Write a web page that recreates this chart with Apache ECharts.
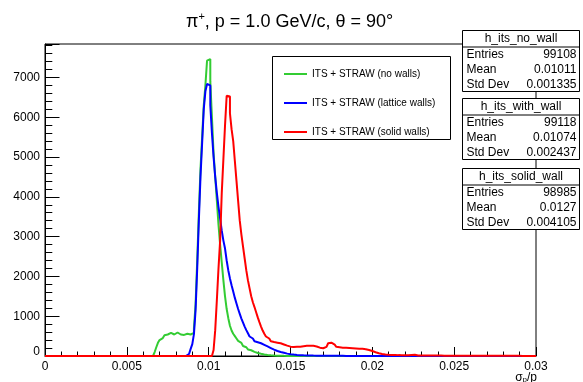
<!DOCTYPE html>
<html><head><meta charset="utf-8">
<script src="https://cdn.jsdelivr.net/npm/echarts@6/dist/echarts.min.js"></script>
<style>html,body{margin:0;padding:0;background:#fff}#c{width:583px;height:382px}</style>
</head><body><div id="c"></div>
<script>
// ---- data (histograms, bin width 0.0001 on 0..0.03) ----
const binWidth = 0.0001;
const nBins = 300;
const seriesNames = ['ITS + STRAW (no walls)', 'ITS + STRAW (lattice walls)', 'ITS + STRAW (solid walls)'];
const seriesColors = ['#33cc33', '#0000ff', '#ff0000'];

const noWallFirstBin = 66;
const noWallCounts = [
  30,100,220,330,400,450,480,520,540,570,
  580,560,540,560,590,570,540,550,530,540,
  560,550,540,560,580,700,1300,2400,3600,4700,
  5500,6300,6800,7420,7460,6900,6000,5100,4500,3900,
  3300,2800,2350,1900,1500,1180,950,760,640,560,
  500,440,380,330,290,250,220,190,165,145,
  125,105,90,75,65,55,45,38,32,27,
  22,18,15,12,10,8,7,6,5,4,
  3,3,2,2,1
];

const latticeFirstBin = 86;
const latticeCounts = [
  20,50,100,180,300,550,1150,2200,3400,4500,
  5350,6200,6650,6834,6800,6300,5600,5000,4500,4100,
  3750,3450,3150,2900,2700,2400,2150,1950,1780,1620,
  1460,1320,1180,1060,940,840,740,650,570,490,
  440,400,370,345,330,320,300,280,260,240,
  220,200,180,160,140,125,110,100,90,80,
  70,60,52,45,40,35,30,27,24,21,
  19,17,15,14,13,12,11,10,10,9,
  9,8,8,7,7,6,6,6,5,5,
  5,5,4,4,4,4,4,3,3,3,
  3,3,3,3,3,2,2,2,2,2,
  2,2,2,2,2,2,2,2,2,1,
  1,1,1,1,1,1,1,1,1,1,
  1,1,1,1,1,1,1,1,1,1
];

const solidFirstBin = 102;
const solidCounts = [
  20,150,650,1400,2200,2900,4100,4950,5800,6541,
  6520,6100,5700,5400,4900,4400,3900,3400,3050,2750,
  2450,2150,1900,1700,1500,1350,1230,1100,970,850,
  740,640,560,490,440,400,370,350,340,335,
  330,320,305,290,275,260,245,235,228,225,
  230,235,230,235,240,245,250,255,250,255,
  260,255,250,240,225,210,200,195,200,230,
  280,320,335,320,285,250,230,220,215,210,
  210,205,205,200,200,195,195,190,190,185,
  180,180,175,170,160,150,140,125,110,95,
  80,70,60,52,45,40,36,33,30,28,
  26,25,24,22,21,20,19,18,18,17,
  17,25,55,30,16,15,15,14,14,13,
  13,12,12,12,11,11,11,10,10,10,
  10,9,9,9,9,9,8,8,8,8,
  8,8,7,7,7,7,7,7,7,6,
  6,6,6,6,6,6,6,5,5,5,
  5,5,5,5,5,5,4,4,4,4,
  4,4,4,4,4,4,4,4,3,3,
  3,3,3,3,3,3,3,3
];

const xTickLabels = ['0','0.005','0.01','0.015','0.02','0.025','0.03'];
const yTickLabels = ['0','1000','2000','3000','4000','5000','6000','7000'];

const statNames = ['h_its_no_wall', 'h_its_with_wall', 'h_its_solid_wall'];
const statEntries = ['99108', '99118', '98985'];
const statMeans = ['0.01011', '0.01074', '0.0127'];
const statStdDevs = ['0.001335', '0.002437', '0.004105'];

// ---- build step data (empty bins = 0) ----
function buildSteps(firstBin, counts) {
  const full = new Array(nBins).fill(0);
  counts.forEach((c, i) => { if (firstBin + i < nBins) full[firstBin + i] = c; });
  const pts = [];
  for (let i = 0; i <= nBins; i++) {
    pts.push([+(i * binWidth).toFixed(5), full[Math.min(i, nBins - 1)]]);
  }
  return pts;
}
const dataSets = [
  buildSteps(noWallFirstBin, noWallCounts),
  buildSteps(latticeFirstBin, latticeCounts),
  buildSteps(solidFirstBin, solidCounts)
];

const FONT = 'Liberation Sans, Arial, Helvetica, sans-serif';
const G = { left: 45, top: 44, right: 536, bottom: 356 };

// stat boxes
const statGraphics = [];
const boxTops = [30.5, 98.5, 168.5];
const boxLeft = 462.5, boxW = 117, boxH = 61;
statNames.forEach((name, k) => {
  const t = boxTops[k];
  statGraphics.push({ type: 'rect', z: 100, shape: { x: boxLeft, y: t, width: boxW, height: boxH },
    style: { fill: '#fff', stroke: '#000', lineWidth: 1 } });
  statGraphics.push({ type: 'line', z: 101, shape: { x1: boxLeft, y1: t + 16.5, x2: boxLeft + boxW, y2: t + 16.5 },
    style: { stroke: '#000', lineWidth: 1 } });
  statGraphics.push({ type: 'text', z: 102, x: boxLeft + boxW / 2, y: t + 8.5,
    style: { text: name, font: '12px ' + FONT, fill: '#000', textAlign: 'center', textVerticalAlign: 'middle' } });
  const rows = [['Entries', statEntries[k]], ['Mean', statMeans[k]], ['Std Dev', statStdDevs[k]]];
  rows.forEach((r, j) => {
    const y = t + 24.5 + j * 15;
    statGraphics.push({ type: 'text', z: 102, x: boxLeft + 4, y: y,
      style: { text: r[0], font: '12px ' + FONT, fill: '#000', textAlign: 'left', textVerticalAlign: 'middle' } });
    statGraphics.push({ type: 'text', z: 102, x: boxLeft + boxW - 3, y: y,
      style: { text: r[1], font: '12px ' + FONT, fill: '#000', textAlign: 'right', textVerticalAlign: 'middle' } });
  });
});

const chart = echarts.init(document.getElementById('c'), null, { renderer: 'canvas' });
chart.setOption({
  animation: false,
  backgroundColor: '#fff',
  textStyle: { fontFamily: FONT },
  title: {
    text: '{a|π}{s|+}{a|, p = 1.0 GeV/c, θ = 90°}',
    left: 181, top: 6,
    textStyle: {
      fontWeight: 'normal',
      rich: {
        a: { fontSize: 18, fontWeight: 'normal', fontFamily: FONT, color: '#000', lineHeight: 22 },
        s: { fontSize: 11, fontWeight: 'normal', fontFamily: FONT, color: '#000', verticalAlign: 'top', lineHeight: 22 }
      }
    }
  },
  legend: {
    orient: 'vertical', left: 279, top: 63,
    itemWidth: 23, itemHeight: 2, itemGap: 17,
    icon: 'rect',
    textStyle: { fontSize: 10, color: '#000', fontFamily: FONT, lineHeight: 12 },
    data: seriesNames
  },
  grid: { left: G.left, top: G.top, width: G.right - G.left, height: G.bottom - G.top,
    show: true, borderColor: '#000', borderWidth: 1, backgroundColor: 'transparent', containLabel: false },
  xAxis: {
    type: 'value', min: 0, max: 0.03, interval: 0.005,
    axisLine: { show: true, lineStyle: { color: '#000', width: 1 } },
    axisTick: { show: true, inside: true, length: 9, lineStyle: { color: '#000' } },
    minorTick: { show: true, splitNumber: 5, length: 4.5, lineStyle: { color: '#000' } },
    splitLine: { show: false },
    axisLabel: { fontSize: 12, color: '#000', fontFamily: FONT, margin: 5,
      formatter: (v) => { const i = Math.round(v / 0.005); return xTickLabels[i] !== undefined ? xTickLabels[i] : ''; } }
  },
  yAxis: {
    type: 'value', min: 0, max: 7840, interval: 1000,
    axisLine: { show: true, lineStyle: { color: '#000', width: 1 } },
    axisTick: { show: true, inside: true, length: 14.5, lineStyle: { color: '#000' } },
    minorTick: { show: true, splitNumber: 5, length: 7.3, lineStyle: { color: '#000' } },
    splitLine: { show: false },
    axisLabel: { fontSize: 12, color: '#000', fontFamily: FONT, margin: 5,
      formatter: (v) => {
        if (v % 1000 !== 0) return '';
        const s = yTickLabels[v / 1000];
        return v === 0 ? '{z|' + s + '}' : s;
      },
      rich: { z: { fontSize: 12, color: '#000', fontFamily: FONT, padding: [0, 0, 9, 0] } }
    }
  },
  series: seriesNames.map((name, k) => ({
    name: name, type: 'line', step: 'end', symbol: 'none', z: 2 + k,
    data: dataSets[k], color: seriesColors[k],
    lineStyle: { color: seriesColors[k], width: 2 },
    itemStyle: { color: seriesColors[k] }
  })),
  graphic: [
    { type: 'rect', z: 50, shape: { x: 272.5, y: 56.5, width: 178, height: 83 },
      style: { fill: 'transparent', stroke: '#000', lineWidth: 1 } },
    { type: 'text', z: 50, x: 537, y: 378,
      style: { text: '{a|σ}{b|p}{a|/p}', textAlign: 'right', textVerticalAlign: 'middle',
        rich: { a: { fontSize: 12, fontFamily: FONT, color: '#000', lineHeight: 12 },
                b: { fontSize: 8, fontFamily: FONT, color: '#000', verticalAlign: 'bottom', lineHeight: 12 } } } }
  ].concat(statGraphics)
});
</script></body></html>
